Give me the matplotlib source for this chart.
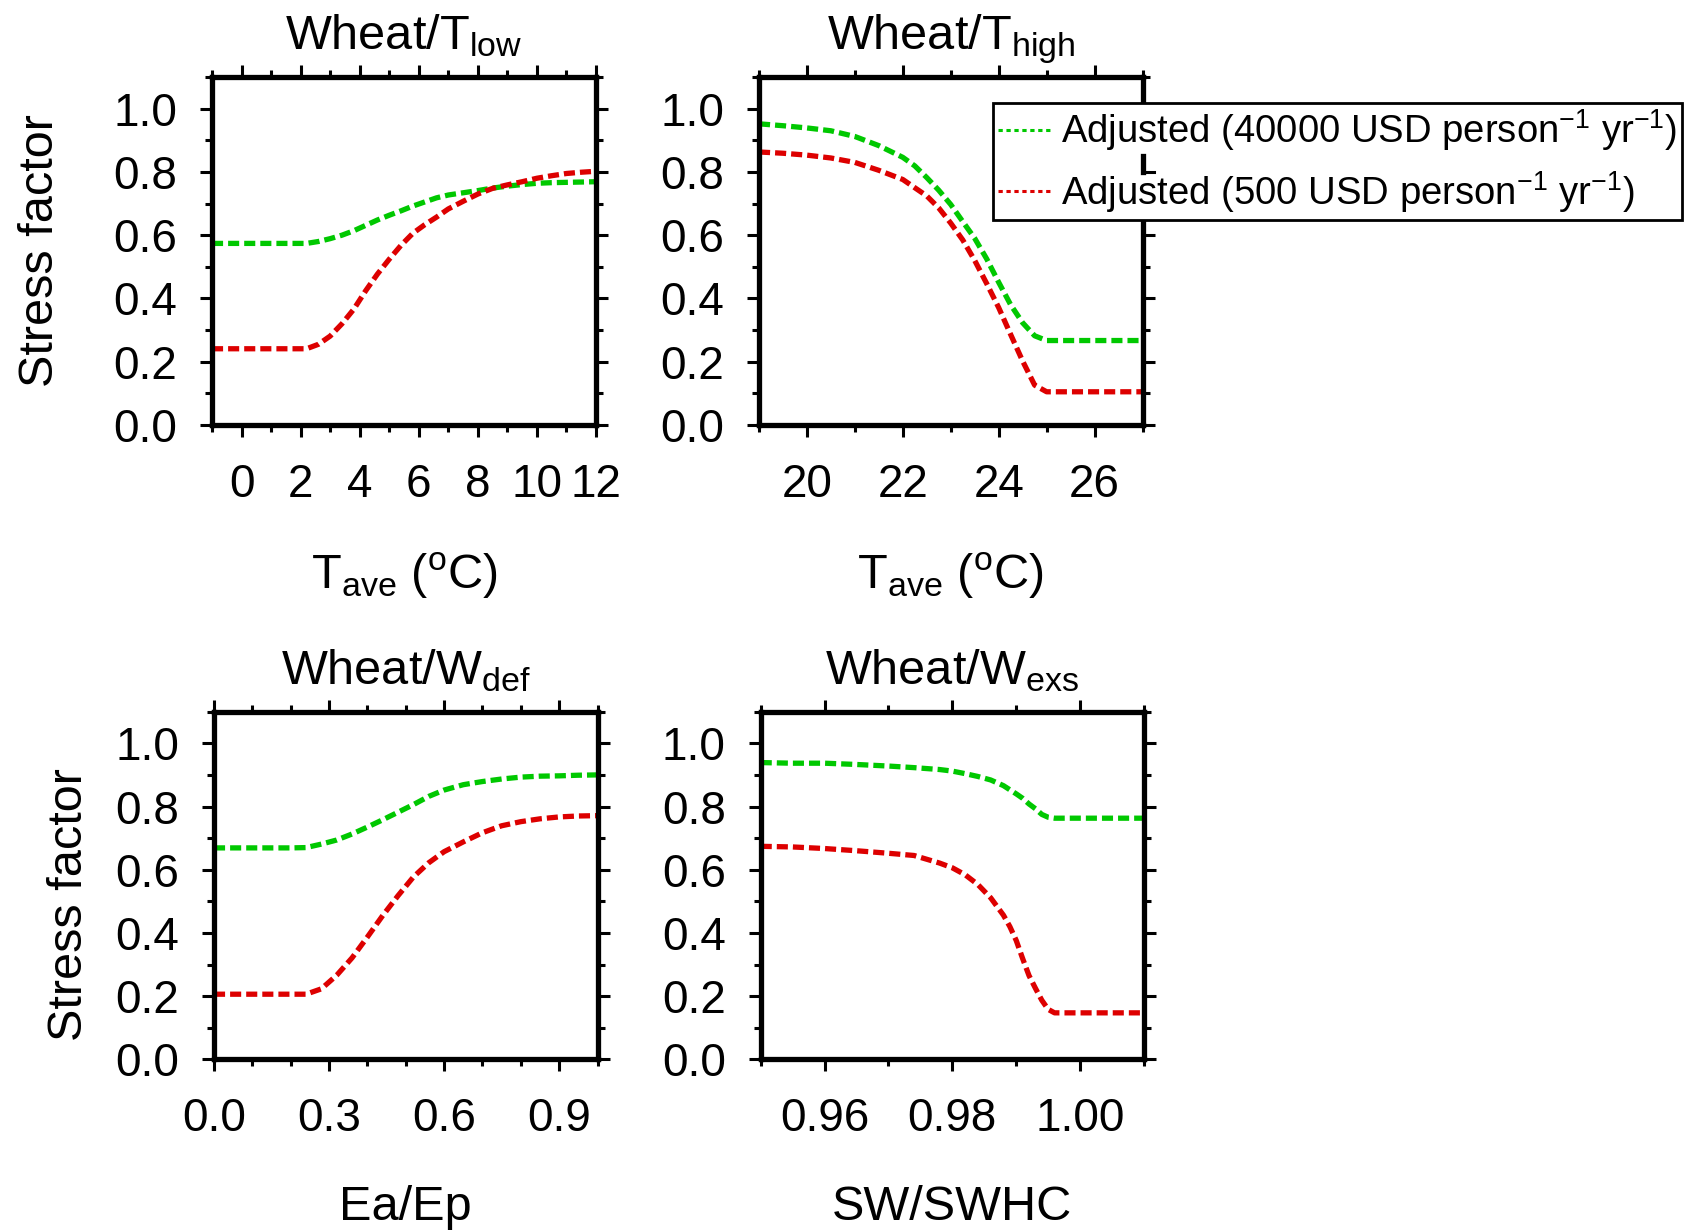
import matplotlib
matplotlib.use("Agg")
import matplotlib.pyplot as plt
from matplotlib.lines import Line2D
from matplotlib.ticker import FixedLocator, FormatStrFormatter
import matplotlib.transforms as mtransforms

plt.rcParams["font.family"] = ["Liberation Sans", "DejaVu Sans"]
plt.rcParams["mathtext.fontset"] = "custom"
plt.rcParams["mathtext.rm"] = "Liberation Sans"
plt.rcParams["mathtext.it"] = "Liberation Sans"
plt.rcParams["mathtext.bf"] = "Liberation Sans:bold"

# ---------------- data ----------------
# Wheat / T_low
tlow_x = [-1, 0, 1, 2, 2.2, 2.6, 3.0, 3.4, 3.8, 4.2, 4.6, 5.0, 5.4, 5.8, 6.2, 6.6,
          7.0, 7.5, 8.0, 8.5, 9.0, 9.5, 10, 10.5, 11, 11.5, 12]
tlow_rich = [0.574, 0.574, 0.574, 0.574, 0.574, 0.580, 0.589, 0.600, 0.614, 0.631,
             0.648, 0.663, 0.677, 0.692, 0.705, 0.718, 0.727, 0.734, 0.741, 0.749,
             0.755, 0.760, 0.764, 0.766, 0.767, 0.768, 0.769]
tlow_poor = [0.241, 0.241, 0.241, 0.241, 0.241, 0.255, 0.281, 0.320, 0.366, 0.424,
             0.477, 0.524, 0.568, 0.606, 0.633, 0.657, 0.683, 0.707, 0.730, 0.748,
             0.759, 0.769, 0.780, 0.788, 0.795, 0.799, 0.802]

# Wheat / T_high
thigh_x = [19, 19.5, 20, 20.5, 21, 21.5, 22, 22.25, 22.5, 22.75, 23, 23.25, 23.5,
           23.75, 24, 24.25, 24.5, 24.75, 25, 25.5, 26, 26.5, 27]
thigh_rich = [0.952, 0.946, 0.939, 0.930, 0.912, 0.883, 0.846, 0.819, 0.782, 0.742,
              0.697, 0.643, 0.590, 0.525, 0.451, 0.380, 0.323, 0.282, 0.267, 0.267,
              0.267, 0.267, 0.267]
thigh_poor = [0.863, 0.859, 0.853, 0.844, 0.830, 0.805, 0.776, 0.750, 0.724, 0.686,
              0.638, 0.585, 0.520, 0.447, 0.371, 0.286, 0.202, 0.126, 0.105, 0.105,
              0.105, 0.105, 0.105]

# Wheat / W_def
wdef_x = [0, 0.1, 0.2, 0.24, 0.28, 0.32, 0.36, 0.4, 0.44, 0.48, 0.52, 0.56, 0.6,
          0.65, 0.7, 0.75, 0.8, 0.85, 0.9, 0.95, 1.0]
wdef_rich = [0.669, 0.669, 0.669, 0.670, 0.681, 0.694, 0.713, 0.735, 0.758, 0.782,
             0.806, 0.832, 0.852, 0.869, 0.879, 0.887, 0.893, 0.896, 0.897, 0.899,
             0.900]
wdef_poor = [0.206, 0.206, 0.206, 0.206, 0.223, 0.266, 0.321, 0.387, 0.455, 0.518,
             0.577, 0.622, 0.657, 0.688, 0.717, 0.739, 0.752, 0.761, 0.767, 0.770,
             0.771]

# Wheat / W_exs
wexs_x = [0.950, 0.955, 0.960, 0.965, 0.970, 0.974, 0.978, 0.980, 0.982, 0.984,
          0.986, 0.988, 0.989, 0.990, 0.991, 0.992, 0.993, 0.994, 0.995, 0.996,
          1.000, 1.005, 1.010]
wexs_rich = [0.939, 0.937, 0.937, 0.933, 0.928, 0.923, 0.917, 0.912, 0.904, 0.895,
             0.884, 0.866, 0.853, 0.840, 0.826, 0.808, 0.793, 0.775, 0.766, 0.763,
             0.763, 0.763, 0.763]
wexs_poor = [0.674, 0.672, 0.667, 0.660, 0.652, 0.645, 0.621, 0.606, 0.584, 0.553,
             0.511, 0.456, 0.420, 0.376, 0.319, 0.265, 0.225, 0.187, 0.158, 0.147,
             0.147, 0.147, 0.147]

series_labels = [r"Adjusted (40000 USD person$^{-1}$ yr$^{-1}$)",
                 r"Adjusted (500 USD person$^{-1}$ yr$^{-1}$)"]
titles = [r"Wheat/T$_\mathrm{low}$", r"Wheat/T$_\mathrm{high}$",
          r"Wheat/W$_\mathrm{def}$", r"Wheat/W$_\mathrm{exs}$"]
xlabels = [r"T$_\mathrm{ave}$ ($^\mathrm{o}$C)", r"T$_\mathrm{ave}$ ($^\mathrm{o}$C)",
           "Ea/Ep", "SW/SWHC"]
ylabel = "Stress factor"

xlims = [(-1, 12), (19, 27), (0, 1.0), (0.95, 1.01)]
xmajor = [[0, 2, 4, 6, 8, 10, 12], [20, 22, 24, 26], [0.0, 0.3, 0.6, 0.9],
          [0.96, 0.98, 1.00]]
xminor = [[-1, 1, 3, 5, 7, 9, 11], [19, 21, 23, 25, 27],
          [0.1, 0.2, 0.4, 0.5, 0.7, 0.8, 1.0], [0.95, 0.97, 0.99, 1.01]]
xfmt = ["%d", "%d", "%.1f", "%.2f"]
ymajor = [0.0, 0.2, 0.4, 0.6, 0.8, 1.0]
yminor = [0.1, 0.3, 0.5, 0.7, 0.9, 1.1]

panel_x = [tlow_x, thigh_x, wdef_x, wexs_x]
panel_rich = [tlow_rich, thigh_rich, wdef_rich, wexs_rich]
panel_poor = [tlow_poor, thigh_poor, wdef_poor, wexs_poor]

# ---------------- layout ----------------
W, H = 1703, 1232
fig = plt.figure(figsize=(W / 100, H / 100), dpi=100)

boxes = [(212, 77, 596, 425), (759, 77, 1142.5, 425),
         (214, 711.7, 597.5, 1059.3), (760.7, 711.7, 1144, 1059.3)]

GREEN = "#00C800"
RED = "#DD0000"
frame_lw = 3.8
tick_w = 2.2
major_len = 8.6
minor_len = 5.0
curve_lw = 3.8
curve_dash = (2.1, 0.95)

axes = []
for i, (l, t, r, b) in enumerate(boxes):
    ax = fig.add_axes([l / W, 1 - b / H, (r - l) / W, (b - t) / H])
    axes.append(ax)
    ax.plot(panel_x[i], panel_rich[i], color=GREEN, lw=curve_lw, dashes=curve_dash)
    ax.plot(panel_x[i], panel_poor[i], color=RED, lw=curve_lw, dashes=curve_dash)
    ax.set_xlim(*xlims[i])
    ax.set_ylim(0, 1.1)
    ax.xaxis.set_major_locator(FixedLocator(xmajor[i]))
    ax.xaxis.set_minor_locator(FixedLocator(xminor[i]))
    ax.xaxis.set_major_formatter(FormatStrFormatter(xfmt[i]))
    ax.yaxis.set_major_locator(FixedLocator(ymajor))
    ax.yaxis.set_minor_locator(FixedLocator(yminor))
    ax.yaxis.set_major_formatter(FormatStrFormatter("%.1f"))
    for s in ax.spines.values():
        s.set_linewidth(frame_lw)
    ax.tick_params(which="both", direction="out", top=True, right=True,
                   width=tick_w, colors="black")
    ax.tick_params(which="major", length=major_len, labelsize=33)
    ax.tick_params(which="minor", length=minor_len)
    ax.tick_params(axis="x", which="major", pad=18.5)
    ax.tick_params(axis="y", which="major", pad=16.5)
    ax.set_title(titles[i], fontsize=35, pad=20)
    ax.set_xlabel(xlabels[i], fontsize=35)
    h_px = b - t
    if i < 2:
        ax.xaxis.set_label_coords(0.5, (425 - 551) / h_px)
    else:
        ax.xaxis.set_label_coords(0.5, (1059.3 - 1185) / h_px)

axes[0].set_ylabel(ylabel, fontsize=35)
axes[0].yaxis.set_label_coords(-0.388, 0.50)
axes[2].set_ylabel(ylabel, fontsize=35)
axes[2].yaxis.set_label_coords(-0.318, 0.444)

# legend in the upper right, overlapping the T_high panel
handles = [Line2D([], [], color=GREEN, lw=2.2, dashes=(1.4, 1.2)),
           Line2D([], [], color=RED, lw=2.2, dashes=(1.4, 1.2))]
leg = fig.legend(handles, series_labels, loc="upper left",
                 bbox_to_anchor=(993 / W, 1 - 102.7 / H),
                 bbox_transform=fig.transFigure, fontsize=27.5,
                 frameon=True, fancybox=False, framealpha=1,
                 borderaxespad=0, borderpad=0.13, labelspacing=0.4,
                 handlelength=1.4, handletextpad=0.25)
leg.get_frame().set_edgecolor("black")
leg.get_frame().set_linewidth(2.0)

# piece of the T_high frame and its 0.8 tick showing over the legend box
ax2 = axes[1]
trans = mtransforms.blended_transform_factory(ax2.transAxes, ax2.transData)
tick_frac = major_len * fig.dpi / 72 / ((boxes[1][2] - boxes[1][0]))
fig.add_artist(Line2D([1, 1], [0.85, 0.8], transform=trans, color="black",
                      lw=frame_lw, zorder=10))
fig.add_artist(Line2D([1, 1 + tick_frac], [0.8, 0.8], transform=trans,
                      color="black", lw=tick_w, zorder=10))

fig.savefig("out.png", dpi=100, facecolor="white")
